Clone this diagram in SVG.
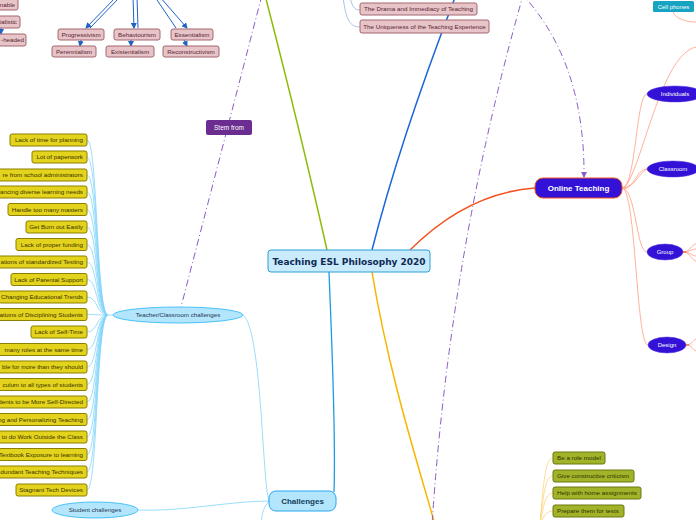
<svg xmlns="http://www.w3.org/2000/svg" width="696" height="520" viewBox="0 0 696 520">
<style>
text{font-family:"Liberation Sans",Arial,sans-serif}
.y rect{fill:#e4d31c;stroke:#8c8000;stroke-width:1}
.y text{font-size:6.25px;fill:#3a3300;text-anchor:end}
.p rect{fill:#e6c4c8;stroke:#a4666f;stroke-width:1}
.p text{font-size:6.25px;fill:#5a2530;text-anchor:middle}
.g rect{fill:#a2b32a;stroke:#6a780e;stroke-width:1}
.g text{font-size:6.25px;fill:#2e3300}
.v ellipse{fill:#3311d6;stroke:#5a3ae0;stroke-width:0.5}
.v text{font-size:6px;fill:#ffffff;text-anchor:middle}
.lb{fill:none;stroke:#81d4fa;stroke-width:0.8}
.or{fill:none;stroke:#ff9e80;stroke-width:0.8}
.rel{fill:none;stroke:#8a5cc4;stroke-width:1;stroke-dasharray:7 3 1 3}
.ar{fill:none;stroke:#1e63c4;stroke-width:1}
</style>
<defs>
<marker id="ab" viewBox="0 0 6 6" refX="5" refY="3" markerWidth="6" markerHeight="6" orient="auto"><path d="M0,0L6,3L0,6z" fill="#1e63c4"/></marker>
<marker id="ap" viewBox="0 0 6 6" refX="5" refY="3" markerWidth="6" markerHeight="6" orient="auto"><path d="M0,0L6,3L0,6z" fill="#8a5cc4"/></marker>
</defs>

<g id="connectors">
<path d="M327,250 Q300,130 265,-5" fill="none" stroke="#8dbb06" stroke-width="1.5"/>
<path d="M372,250 Q400,140 456,-5" fill="none" stroke="#1a66d9" stroke-width="1.5"/>
<path d="M410,250 C440,220 480,192 535,188" fill="none" stroke="#f4511e" stroke-width="1.5"/>
<path d="M329,272 C332,350 336,430 334,492" fill="none" stroke="#1e9be0" stroke-width="1.3"/>
<path d="M372,272 C390,380 420,470 435,525" fill="none" stroke="#f7b500" stroke-width="1.5"/>
<path class="rel" d="M262,-5 L181,307"/>
<path class="rel" d="M524,-8 Q450,250 432,525"/>
<path class="rel" d="M520,-8 Q585,60 584,177" marker-end="url(#ap)"/>
<path class="ar" d="M116,-3 L86,28" marker-end="url(#ab)"/>
<path class="ar" d="M120,-3 L90,28"/>
<path class="ar" d="M133,-3 L134,28" marker-end="url(#ab)"/>
<path class="ar" d="M137,-3 L138,28"/>
<path class="ar" d="M155,-3 L176,28"/>
<path class="ar" d="M160,-3 L187,28" marker-end="url(#ab)"/>
<path class="ar" d="M81,40 L80,46" marker-end="url(#ab)"/>
<path class="ar" d="M131,40 L131,46" marker-end="url(#ab)"/>
<path class="ar" d="M184,40 L187,46" marker-end="url(#ab)"/>
<path class="ar" d="M1,28 L1,34" marker-end="url(#ab)"/>
<path d="M350,-3 C352,6 354,10 360,10" fill="none" stroke="#90b8e0" stroke-width="0.8"/>
<path d="M343,-3 C346,20 350,27 360,27" fill="none" stroke="#90b8e0" stroke-width="0.8"/>
<path class="lb" d="M269,501 C262,480 262,330 243,315"/>
<path class="lb" d="M269,501 C230,501 180,512 138,510"/>
<path class="lb" d="M269,501 C263,508 262,514 261,525"/>
<path class="lb" d="M113,315 L108,315"/>
<g class="lb">
<path d="M108,315 C96,315 98,140 87,140"/>
<path d="M108,315 C96,315 98,157 87,157"/>
<path d="M108,315 C96,315 98,175 87,175"/>
<path d="M108,315 C96,315 98,192 87,192"/>
<path d="M108,315 C96,315 98,209.5 87,209.5"/>
<path d="M108,315 C96,315 98,227 87,227"/>
<path d="M108,315 C96,315 98,244.5 87,244.5"/>
<path d="M108,315 C96,315 98,262 87,262"/>
<path d="M108,315 C96,315 98,279.5 87,279.5"/>
<path d="M108,315 C96,315 98,297 87,297"/>
<path d="M108,315 C96,315 98,314.5 87,314.5"/>
<path d="M108,315 C96,315 98,332 87,332"/>
<path d="M108,315 C96,315 98,349.5 87,349.5"/>
<path d="M108,315 C96,315 98,367 87,367"/>
<path d="M108,315 C96,315 98,384.5 87,384.5"/>
<path d="M108,315 C96,315 98,402 87,402"/>
<path d="M108,315 C96,315 98,419.5 87,419.5"/>
<path d="M108,315 C96,315 98,437 87,437"/>
<path d="M108,315 C96,315 98,454.5 87,454.5"/>
<path d="M108,315 C96,315 98,472 87,472"/>
<path d="M108,315 C96,315 98,490 87,490"/>
</g>
<g class="or">
<path d="M622,188 C636,188 636,94 647,94"/>
<path d="M622,188 C636,188 636,169 647,169"/>
<path d="M622,188 C636,188 636,252 647,252"/>
<path d="M622,188 C636,188 636,345 648,345"/>
<path d="M624,188 C642,170 660,55 696,47"/>
<path d="M624,189 C636,186 640,170 650,168"/>
<path d="M673,12 C675,18 685,22 696,22"/>
<path d="M683,252 C690,252 692,244 696,244"/>
<path d="M683,252 C690,252 692,249 696,249"/>
<path d="M683,252 C690,252 692,256 696,256"/>
<path d="M683,252 C690,252 692,261 696,261"/>
<path d="M686,345 C692,345 693,340 696,339"/>
<path d="M686,345 C692,345 693,350 696,351"/>
</g>
<path d="M680,252 L686,252 M683,345 L689,345" stroke="#f4511e" stroke-width="1.2"/>
<g fill="none" stroke="#ffd37a" stroke-width="0.8">
<path d="M540,525 C544,470 547,458 553,458"/>
<path d="M540,525 C544,485 547,476 553,476"/>
<path d="M540,525 C544,500 547,493 553,493"/>
<path d="M540,525 C544,515 547,511 553,511"/>
</g>
</g>

<g id="center">
<rect x="268" y="250" width="162" height="22" rx="3" fill="#c9ebfb" stroke="#2b9fd9" stroke-width="1"/>
<text x="349" y="264.5" style="font-family:'DejaVu Sans',Verdana,sans-serif" font-size="9" font-weight="bold" fill="#0f2a55" text-anchor="middle">Teaching ESL Philosophy 2020</text>
</g>

<g id="online-teaching">
<rect x="535" y="178" width="87" height="20" rx="8" fill="#3311d6" stroke="#f4511e" stroke-width="1"/>
<text x="578.5" y="191" font-size="8" font-weight="bold" fill="#ffffff" text-anchor="middle">Online Teaching</text>
</g>

<g id="challenges">
<rect x="269" y="491" width="67" height="20" rx="7" fill="#b3e5fc" stroke="#29a6ee" stroke-width="1"/>
<text x="302.5" y="504" font-size="8" font-weight="bold" fill="#143c5a" text-anchor="middle">Challenges</text>
</g>

<g id="teacher-classroom">
<ellipse cx="178" cy="315" rx="65" ry="8" fill="#b3e5fc" stroke="#29b6f6" stroke-width="0.8"/>
<text x="178" y="317" font-size="6.2" fill="#1f3550" text-anchor="middle">Teacher/Classroom challenges</text>
</g>

<g id="student-challenges">
<ellipse cx="95" cy="510" rx="43" ry="8" fill="#b3e5fc" stroke="#29b6f6" stroke-width="0.8"/>
<text x="95" y="512" font-size="6.2" fill="#1f3550" text-anchor="middle">Student challenges</text>
</g>

<g id="stem-from">
<rect x="206" y="120" width="46" height="15" rx="2" fill="#6b2d90"/>
<text x="229" y="130" font-size="6.5" fill="#ffffff" text-anchor="middle">Stem from</text>
</g>

<g id="n1" class="y"><rect x="10" y="134" width="77" height="12" rx="2"/><text x="83" y="142">Lack of time for planning</text></g>
<g id="n2" class="y"><rect x="32" y="151" width="55" height="12" rx="2"/><text x="83" y="159">Lot of paperwork</text></g>
<g id="n3" class="y"><rect x="-10" y="169" width="97" height="12" rx="2"/><text x="83" y="177">re from school administrators</text></g>
<g id="n4" class="y"><rect x="-10" y="186" width="97" height="12" rx="2"/><text x="83" y="194">lancing diverse learning needs</text></g>
<g id="n5" class="y"><rect x="8" y="203.5" width="79" height="12" rx="2"/><text x="83" y="211.5">Handle too many masters</text></g>
<g id="n6" class="y"><rect x="26" y="221" width="61" height="12" rx="2"/><text x="83" y="229">Get Burn out Easily</text></g>
<g id="n7" class="y"><rect x="16" y="238.5" width="71" height="12" rx="2"/><text x="83" y="246.5">Lack of proper funding</text></g>
<g id="n8" class="y"><rect x="-10" y="256" width="97" height="12" rx="2"/><text x="83" y="264">ations of standardized Testing</text></g>
<g id="n9" class="y"><rect x="11" y="273.5" width="76" height="12" rx="2"/><text x="83" y="281.5">Lack of Parental Support</text></g>
<g id="n10" class="y"><rect x="-1" y="291" width="88" height="12" rx="2"/><text x="83" y="299">Changing Educational Trends</text></g>
<g id="n11" class="y"><rect x="-10" y="308.5" width="97" height="12" rx="2"/><text x="83" y="316.5">ations of Disciplining Students</text></g>
<g id="n12" class="y"><rect x="31" y="326" width="56" height="12" rx="2"/><text x="83" y="334">Lack of Self-Time</text></g>
<g id="n13" class="y"><rect x="-10" y="343.5" width="97" height="12" rx="2"/><text x="83" y="351.5">many roles at the same time</text></g>
<g id="n14" class="y"><rect x="-10" y="361" width="97" height="12" rx="2"/><text x="83" y="369">ble for more than they should</text></g>
<g id="n15" class="y"><rect x="-10" y="378.5" width="97" height="12" rx="2"/><text x="83" y="386.5">culum to all types of students</text></g>
<g id="n16" class="y"><rect x="-10" y="396" width="97" height="12" rx="2"/><text x="83" y="404">dents to be More Self-Directed</text></g>
<g id="n17" class="y"><rect x="-10" y="413.5" width="97" height="12" rx="2"/><text x="83" y="421.5">ng and Personalizing Teaching</text></g>
<g id="n18" class="y"><rect x="-10" y="431" width="97" height="12" rx="2"/><text x="83" y="439">to do Work Outside the Class</text></g>
<g id="n19" class="y"><rect x="-10" y="448.5" width="97" height="12" rx="2"/><text x="83" y="456.5">Textbook Exposure to learning</text></g>
<g id="n20" class="y"><rect x="-10" y="466" width="97" height="12" rx="2"/><text x="83" y="474">edundant Teaching Techniques</text></g>
<g id="n21" class="y"><rect x="16" y="484" width="71" height="12" rx="2"/><text x="83" y="492">Stagnant Tech Devices</text></g>

<g id="progressivism" class="p"><rect x="58" y="29" width="46" height="11" rx="2"/><text x="81" y="36.5">Progressivism</text></g>
<g id="behaviourism" class="p"><rect x="114" y="29" width="46" height="11" rx="2"/><text x="137" y="36.5">Behaviourism</text></g>
<g id="essentialism" class="p"><rect x="171" y="29" width="42" height="11" rx="2"/><text x="192" y="36.5">Essentialism</text></g>
<g id="perennialism" class="p"><rect x="52" y="46" width="44" height="11" rx="2"/><text x="74" y="53.5">Perennialism</text></g>
<g id="existentialism" class="p"><rect x="106" y="46" width="48" height="11" rx="2"/><text x="130" y="53.5">Existentialism</text></g>
<g id="reconstructivism" class="p"><rect x="163" y="46" width="56" height="11" rx="2"/><text x="191" y="53.5">Reconstructivism</text></g>
<g id="tl1" class="p"><rect x="-10" y="-1" width="28" height="11" rx="2"/><text x="15" y="7" style="text-anchor:end">nable</text></g>
<g id="tl2" class="p"><rect x="-10" y="16" width="30" height="12" rx="2"/><text x="17" y="24" style="text-anchor:end">ialistic</text></g>
<g id="tl3" class="p"><rect x="-10" y="34" width="36" height="12" rx="2"/><text x="24" y="42" style="text-anchor:end">-headed</text></g>
<g id="drama" class="p"><rect x="360" y="3" width="117" height="12" rx="2"/><text x="418.5" y="11">The Drama and Immediacy of Teaching</text></g>
<g id="uniqueness" class="p"><rect x="360" y="20" width="129" height="13" rx="2"/><text x="424.5" y="28.5">The Uniqueness of the Teaching Experience</text></g>

<g id="cell-phones"><rect x="653" y="1" width="41" height="11" rx="1.5" fill="#17a3c2"/><text x="673.5" y="8.5" font-size="6" fill="#ffffff" text-anchor="middle">Cell phones</text></g>

<g id="individuals" class="v"><ellipse cx="675" cy="94" rx="28" ry="8"/><text x="675" y="96">Individuals</text></g>
<g id="classroom" class="v"><ellipse cx="673" cy="169" rx="26" ry="8"/><text x="673" y="171">Classroom</text></g>
<g id="group" class="v"><ellipse cx="665" cy="252" rx="18" ry="8"/><text x="665" y="254">Group</text></g>
<g id="design" class="v"><ellipse cx="667" cy="345" rx="19" ry="8"/><text x="667" y="347">Design</text></g>

<g id="g1" class="g"><rect x="553" y="452" width="52" height="12" rx="2"/><text x="557" y="460">Be a role model</text></g>
<g id="g2" class="g"><rect x="553" y="470" width="81" height="12" rx="2"/><text x="557" y="478">Give constructive criticism</text></g>
<g id="g3" class="g"><rect x="553" y="487" width="88" height="12" rx="2"/><text x="557" y="495">Help with home assignments</text></g>
<g id="g4" class="g"><rect x="553" y="505" width="71" height="12" rx="2"/><text x="557" y="513">Prepare them for tests</text></g>
</svg>
